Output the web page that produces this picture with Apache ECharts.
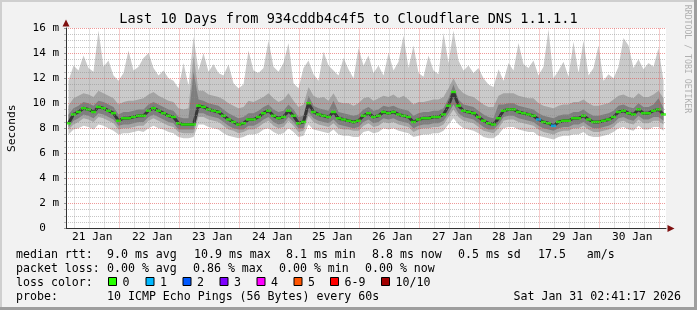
<!DOCTYPE html>
<html><head><meta charset="utf-8">
<script src="https://cdn.jsdelivr.net/npm/echarts@6/dist/echarts.min.js"></script>
<style>html,body{margin:0;padding:0;background:#f2f2f2}#c{width:697px;height:310px}</style>
</head><body><div id="c"></div>
<script>
// ---------- text ----------
const titleText = 'Last 10 Days from 934cddb4c4f5 to Cloudflare DNS 1.1.1.1';
const yAxisTitle = 'Seconds';
const sideCredit = 'RRDTOOL / TOBI OETIKER';
// ---------- axes ----------
const startHour = 2 + 41/60 + 17/3600;   // hours after 21 Jan 00:00 (window start)
const spanHours = 240;                    // 10 days
const sampleHours = 2;                    // one sample per 2 hours
const dayLabels = ['21 Jan','22 Jan','23 Jan','24 Jan','25 Jan','26 Jan','27 Jan','28 Jan','29 Jan','30 Jan'];
const dayLabelHours = [12,36,60,84,108,132,156,180,204,228];
const dayBoundaryHours = [24,48,72,96,120,144,168,192,216,240];
const sixHourGridHours = [6,12,18,30,36,42,54,60,66,78,84,90,102,108,114,126,132,138,150,156,162,174,180,186,198,204,210,222,228,234];
const yTickLabels = ['0  ','2 m','4 m','6 m','8 m','10 m','12 m','14 m','16 m'];
// ---------- series (ms) ----------
const pingMax = [
11.8,13.0,12.6,13.8,12.8,12.5,15.8,12.9,13.4,12.2,
11.8,12.4,14.2,12.6,12.9,13.6,14.0,12.8,12.2,12.6,
12.0,11.8,11.2,13.2,11.4,15.3,12.6,14.0,12.5,13.1,
12.4,12.2,13.1,11.6,11.2,11.5,14.2,12.6,12.4,12.8,
15.0,12.9,12.5,13.2,14.8,11.6,11.2,12.8,13.4,12.3,
11.8,14.1,13.0,12.6,12.2,13.6,12.7,12.0,14.4,13.0,
13.8,12.4,13.0,12.2,14.0,12.6,13.3,15.4,12.8,14.6,
12.4,12.1,13.8,12.6,12.3,15.6,13.2,15.8,13.4,12.6,
13.0,12.4,12.8,12.0,11.5,11.3,12.7,11.8,13.2,12.6,
14.8,13.1,12.8,13.4,12.2,12.9,15.9,12.0,12.6,13.3,
12.1,14.9,12.4,15.0,12.2,12.8,14.6,11.8,12.3,12.0,
12.9,15.2,14.6,12.8,13.5,12.7,13.2,12.9,14.4,11.8];
const ping9 = [
9.8,10.4,10.6,10.8,10.7,10.5,11.0,10.8,10.6,10.4,
9.9,10.1,10.2,10.2,10.3,10.4,10.7,10.9,10.6,10.4,
10.2,10.1,9.6,9.5,9.6,13.8,11.0,11.0,10.7,10.6,
10.5,10.3,10.0,9.8,9.6,9.7,10.2,10.1,10.3,10.5,
10.8,10.4,10.1,10.3,10.8,10.2,9.7,9.9,11.3,10.6,
10.4,10.5,10.2,10.8,10.1,10.0,10.0,9.8,10.0,10.4,
10.5,10.2,10.4,10.6,10.5,10.7,10.4,10.6,10.3,9.9,
10.1,10.1,10.2,10.3,10.3,10.5,11.2,12.0,11.2,10.8,
10.6,10.5,10.2,9.9,9.7,9.7,10.6,10.8,10.8,10.8,
10.6,10.5,10.4,10.4,10.0,9.8,9.7,9.6,9.8,9.9,
9.9,10.1,10.1,10.3,10.0,9.8,9.8,9.9,10.0,10.3,
10.6,10.7,10.5,10.4,10.8,10.5,10.5,10.7,11.0,10.4];
const ping8 = [
9.1,9.6,9.8,10.1,10.0,9.8,10.2,10.1,9.9,9.7,
9.1,9.3,9.3,9.4,9.5,9.5,9.9,10.1,9.9,9.7,
9.5,9.4,8.9,8.8,8.8,12.5,10.3,10.2,10.0,9.9,
9.8,9.5,9.2,9.0,8.8,8.9,9.2,9.2,9.4,9.7,
9.9,9.5,9.3,9.4,9.9,9.5,8.9,9.0,10.6,9.8,
9.6,9.5,9.4,10.2,9.3,9.2,9.1,9.0,9.1,9.5,
9.7,9.4,9.5,9.8,9.7,9.8,9.6,9.5,9.4,9.0,
9.2,9.3,9.3,9.4,9.4,9.6,10.4,11.5,10.3,9.9,
9.8,9.7,9.4,9.1,8.9,8.8,9.9,9.9,10.0,10.0,
9.8,9.7,9.6,9.5,9.2,9.0,8.9,8.8,9.0,9.1,
9.1,9.3,9.3,9.5,9.2,9.0,9.0,9.1,9.2,9.4,
9.8,9.9,9.7,9.6,10.0,9.7,9.7,9.9,10.4,9.6];
const medianRtt = [
8.4,9.1,9.3,9.6,9.5,9.3,9.7,9.6,9.4,9.2,
8.6,8.8,8.8,8.9,9.0,9.0,9.4,9.6,9.4,9.2,
9.0,8.9,8.4,8.3,8.3,8.3,9.8,9.7,9.5,9.4,
9.3,9.0,8.7,8.5,8.3,8.4,8.7,8.7,8.9,9.2,
9.4,9.0,8.8,8.9,9.4,9.0,8.4,8.5,10.0,9.3,
9.1,9.0,8.9,9.3,8.8,8.7,8.6,8.5,8.6,9.0,
9.2,8.9,9.0,9.3,9.2,9.3,9.1,9.0,8.9,8.5,
8.7,8.8,8.8,8.9,8.9,9.1,9.8,10.9,9.8,9.4,
9.3,9.2,8.9,8.6,8.4,8.3,8.8,9.4,9.5,9.5,
9.3,9.2,9.1,9.0,8.7,8.5,8.4,8.2,8.5,8.6,
8.6,8.8,8.8,9.0,8.7,8.5,8.5,8.6,8.7,8.9,
9.3,9.4,9.2,9.1,9.5,9.2,9.2,9.4,9.5,9.1];
const ping3 = [
8.1,8.6,8.8,9.1,9.0,8.8,9.2,9.1,8.9,8.7,
8.2,8.3,8.3,8.4,8.5,8.5,8.9,9.1,8.9,8.7,
8.5,8.4,7.9,7.9,7.9,7.9,9.2,9.2,9.0,8.9,
8.8,8.5,8.2,8.0,7.9,7.9,8.2,8.2,8.4,8.7,
8.9,8.5,8.3,8.4,8.9,8.5,8.0,8.0,9.3,8.8,
8.6,8.5,8.4,8.7,8.3,8.2,8.1,8.0,8.1,8.5,
8.7,8.4,8.5,8.8,8.7,8.8,8.6,8.5,8.4,8.0,
8.2,8.3,8.3,8.4,8.4,8.6,9.2,9.9,9.2,8.9,
8.8,8.7,8.4,8.1,7.9,7.9,8.3,8.9,9.0,9.0,
8.8,8.7,8.6,8.5,8.2,8.0,7.9,7.8,8.0,8.1,
8.1,8.3,8.3,8.5,8.2,8.0,8.0,8.1,8.2,8.4,
8.8,8.9,8.7,8.6,9.0,8.7,8.7,8.9,8.9,8.6];
const ping2 = [
7.9,8.3,8.5,8.8,8.7,8.5,8.9,8.8,8.6,8.4,
7.9,8.0,8.0,8.1,8.2,8.2,8.6,8.8,8.6,8.4,
8.2,8.1,7.7,7.6,7.6,7.6,8.9,8.9,8.7,8.6,
8.5,8.2,7.9,7.8,7.6,7.7,7.9,7.9,8.1,8.4,
8.6,8.2,8.0,8.1,8.6,8.2,7.7,7.8,9.0,8.5,
8.3,8.2,8.1,8.4,8.0,7.9,7.9,7.8,7.8,8.2,
8.4,8.1,8.2,8.5,8.4,8.5,8.3,8.2,8.1,7.7,
7.9,8.0,8.0,8.1,8.1,8.3,8.9,9.5,8.9,8.6,
8.5,8.4,8.1,7.8,7.7,7.6,8.0,8.6,8.7,8.7,
8.5,8.4,8.3,8.2,7.9,7.7,7.6,7.5,7.7,7.8,
7.8,8.0,8.0,8.2,7.9,7.7,7.7,7.8,7.9,8.1,
8.5,8.6,8.4,8.3,8.7,8.4,8.4,8.6,8.6,8.3];
const pingMin = [
7.5,7.9,8.0,8.2,8.1,7.9,8.3,8.2,8.0,7.8,
7.5,7.6,7.6,7.7,7.8,7.7,8.0,8.2,8.0,7.9,
7.7,7.6,7.3,7.2,7.2,7.3,8.3,8.3,8.1,8.0,
7.9,7.6,7.4,7.3,7.2,7.3,7.5,7.5,7.6,7.9,
8.0,7.7,7.5,7.6,8.0,7.7,7.3,7.4,8.3,7.9,
7.8,7.7,7.6,7.9,7.5,7.4,7.4,7.3,7.3,7.7,
7.8,7.6,7.7,8.0,7.9,8.0,7.8,7.7,7.6,7.3,
7.4,7.5,7.5,7.6,7.6,7.8,8.3,8.8,8.3,8.0,
7.9,7.8,7.6,7.3,7.2,7.2,7.5,8.0,8.1,8.1,
7.9,7.8,7.7,7.7,7.4,7.3,7.2,7.1,7.3,7.4,
7.4,7.5,7.5,7.7,7.4,7.3,7.3,7.4,7.5,7.7,
8.0,8.1,7.9,7.8,8.2,7.9,7.9,8.1,8.1,7.8];
const lostPings = [
0,0,0,0,0,0,0,0,0,0, 0,0,0,0,0,0,0,0,0,0,
0,0,0,0,0,0,0,0,0,0, 0,0,0,0,0,0,0,0,0,0,
0,0,0,0,0,0,0,0,0,0, 0,0,0,0,0,0,0,0,0,0,
0,0,0,0,0,0,0,0,0,0, 0,0,0,0,0,0,0,0,0,0,
0,0,0,0,0,0,0,0,0,0, 0,0,0,0,1,0,0,1,0,0,
0,0,0,0,0,0,0,0,0,0, 0,0,0,0,0,0,0,0,0,0];
// ---------- legend ----------
const lossColors = ['#26ff00','#00b8ff','#0059ff','#7e00ff','#ff00ff','#ff5500','#ff0000','#a10000'];
const lossLabels = ['0','1','2','3','4','5','6-9','10/10'];
const rttStats = ['9.0 ms avg','10.9 ms max','8.1 ms min','8.8 ms now','0.5 ms sd','17.5   am/s'];
const lossStats = ['0.00 % avg','0.86 % max','0.00 % min','0.00 % now'];
const probeText = '10 ICMP Echo Pings (56 Bytes) every 60s';
const stampText = 'Sat Jan 31 02:41:17 2026';

const MONO = '"DejaVu Sans Mono", monospace';
const xs = medianRtt.map((_, i) => startHour + (i + 0.5) * sampleHours);
const pairs = arr => arr.map((v, i) => [xs[i], v]);
function lossColor(n){ if(n===0) return lossColors[0]; if(n<=5) return lossColors[n]; if(n<10) return lossColors[6]; return lossColors[7]; }

// smoke band between two sorted-ping series, drawn as one polygon through the axes' scales
function band(name, lo, hi, color){
  return {
    type:'custom', name:name, silent:true, z:2, clip:true,
    data:[[xs[0], lo[0], hi[0]]],
    renderItem:(params, api) => {
      const pts = [];
      for (let i = 0; i < xs.length; i++) pts.push(api.coord([xs[i], hi[i]]));
      for (let i = xs.length - 1; i >= 0; i--) pts.push(api.coord([xs[i], lo[i]]));
      return {type:'polygon', shape:{points:pts}, style:{fill:color, stroke:null}};
    }
  };
}

const majorGrid = 'rgba(225,70,70,0.55)';
const minorGrid = 'rgba(140,140,140,0.5)';

const chart = echarts.init(document.getElementById('c'), null, {renderer:'canvas'});

const txt = (x, y, s, extra) => Object.assign({type:'text', x:x, y:y, silent:true,
  style:Object.assign({text:s, fill:'#000', font:'11.6px '+MONO, verticalAlign:'middle', textVerticalAlign:'middle'}, extra||{})});

const graphics = [];
graphics.push({type:'rect', shape:{x:0,y:0,width:697,height:2}, style:{fill:'#cfcfcf'}, silent:true});
graphics.push({type:'rect', shape:{x:0,y:0,width:2,height:310}, style:{fill:'#cfcfcf'}, silent:true});
graphics.push({type:'rect', shape:{x:0,y:307,width:697,height:3}, style:{fill:'#9e9e9e'}, silent:true});
graphics.push({type:'rect', shape:{x:694,y:0,width:3,height:310}, style:{fill:'#9e9e9e'}, silent:true});
graphics.push(txt(348.5, 19.5, titleText, {font:'13.6px '+MONO, align:'center', textAlign:'center'}));
graphics.push({type:'text', x:687.5, y:59, rotation:-Math.PI/2, silent:true,
  style:{text:sideCredit, fill:'#b0b0b0', font:'8.2px '+MONO, align:'center', textAlign:'center', verticalAlign:'middle', textVerticalAlign:'middle'}});
const rowY = [255, 269, 283, 297];
graphics.push(txt(16, rowY[0], 'median rtt:'));
[107,194,286,372,458,538].forEach((x,i)=>graphics.push(txt(x, rowY[0], rttStats[i])));
graphics.push(txt(16, rowY[1], 'packet loss:'));
[107,193,279,365].forEach((x,i)=>graphics.push(txt(x, rowY[1], lossStats[i])));
graphics.push(txt(16, rowY[2], 'loss color:'));
[108,145.5,182.5,219.5,256.5,293.5,330,381].forEach((x,i)=>{
  graphics.push({type:'rect', shape:{x:x+0.5, y:rowY[2]-5.5, width:8, height:8}, style:{fill:lossColors[i], stroke:'#000', lineWidth:1}, silent:true});
  graphics.push(txt(x+14.5, rowY[2], lossLabels[i]));
});
graphics.push(txt(16, rowY[3], 'probe:'));
graphics.push(txt(107, rowY[3], probeText));
graphics.push(txt(681, rowY[3], stampText, {align:'right', textAlign:'right'}));

const vLines = [];
sixHourGridHours.forEach(h => vLines.push({xAxis:h, lineStyle:{color:minorGrid, width:1, type:[1,1]}}));
dayBoundaryHours.forEach(h => vLines.push({xAxis:h, lineStyle:{color:majorGrid, width:1, type:[1,1]}}));

const option = {
  animation:false,
  backgroundColor:'#f2f2f2',
  textStyle:{fontFamily:MONO},
  grid:{left:66, top:28, width:600, height:200.5, show:true, backgroundColor:'#ffffff', borderWidth:0,
        containLabel:false, outerBoundsMode:'none'},
  xAxis:[{
    type:'value', min:startHour, max:startHour+spanHours, z:10,
    axisLine:{show:true, lineStyle:{color:'#333', width:1}, symbol:['none','none']},
    axisTick:{show:false},
    splitLine:{show:false},
    axisLabel:{show:true, customValues:dayLabelHours, color:'#000', fontFamily:MONO, fontSize:11.2, margin:3, padding:[0,0,0,6],
      formatter:v=>{const k=dayLabelHours.indexOf(v); return k>=0?dayLabels[k]:'';}}
  },{
    type:'value', min:startHour, max:startHour+spanHours, z:11,
    axisLine:{show:true, lineStyle:{color:'#7f1010', width:0}, symbol:['none','triangle'], symbolSize:[7,7], symbolOffset:[0,5]},
    axisTick:{show:false}, axisLabel:{show:false}, splitLine:{show:false}, position:'bottom'
  }],
  yAxis:[{
    type:'value', min:0, max:16, interval:2, z:10,
    name:yAxisTitle, nameLocation:'middle', nameGap:48, nameRotate:90,
    nameTextStyle:{color:'#000', fontFamily:MONO, fontSize:11.3},
    axisLine:{show:true, lineStyle:{color:'#333', width:1}},
    axisTick:{show:true, length:2, lineStyle:{color:'#999'}},
    minorTick:{show:true, splitNumber:4, length:2, lineStyle:{color:'#bbb'}},
    splitLine:{show:true, lineStyle:{color:majorGrid, width:1, type:[1,1]}},
    minorSplitLine:{show:true, lineStyle:{color:minorGrid, width:1, type:[1,1]}},
    axisLabel:{color:'#000', fontFamily:MONO, fontSize:11, margin:7, align:'right',
      formatter:v=>yTickLabels[Math.round(v/2)]}
  },{
    type:'value', min:0, max:16, z:11, position:'left',
    axisLine:{show:true, lineStyle:{color:'#7f1010', width:0}, symbol:['none','triangle'], symbolSize:[7,7], symbolOffset:[0,5]},
    axisTick:{show:false}, axisLabel:{show:false}, splitLine:{show:false}
  }],
  series:[
    band('smoke1', pingMin, pingMax, '#cacaca'),
    band('smoke2', ping2, ping9, '#a4a4a4'),
    band('smoke3', ping3, ping8, '#7e7e7e'),
    {type:'line', name:'core', data:pairs(medianRtt), symbol:'none', lineStyle:{color:'#383838', width:3}, silent:true, z:3},
    {type:'scatter', name:'median', data:pairs(medianRtt), symbol:'rect', symbolSize:[5,2.5], silent:true, z:4,
      itemStyle:{color:p=>lossColor(lostPings[p.dataIndex])}},
    {type:'line', name:'vgrid', data:[], silent:true, z:9,
      markLine:{silent:true, symbol:['none','none'], label:{show:false}, animation:false, data:vLines}}
  ],
  graphic:graphics
};
chart.setOption(option);
</script></body></html>
